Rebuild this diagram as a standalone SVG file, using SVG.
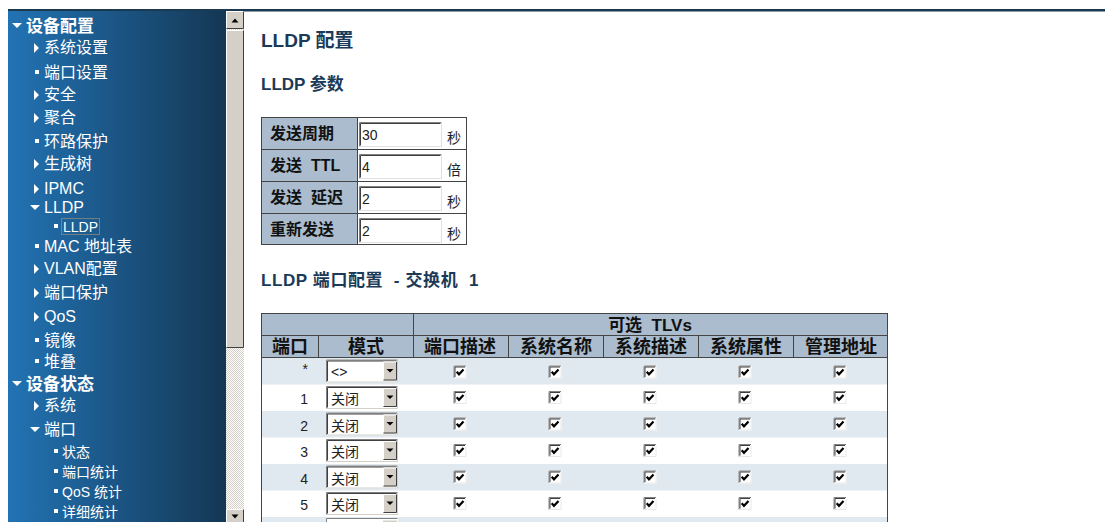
<svg xmlns="http://www.w3.org/2000/svg" xmlns:xlink="http://www.w3.org/1999/xlink" width="1105" height="522" viewBox="0 0 1105 522">
<style>
.m{font-family:"Liberation Sans","Noto Sans CJK SC",sans-serif;font-size:16px;fill:#fff}
.mb{font-family:"Liberation Sans","Noto Sans CJK SC",sans-serif;font-size:17px;font-weight:bold;fill:#fff}
.ms{font-family:"Liberation Sans","Noto Sans CJK SC",sans-serif;font-size:14px;fill:#fff}
.ic{fill:#fff}
.h1{font-family:"Liberation Sans","Noto Sans CJK SC",sans-serif;font-size:19px;font-weight:bold;fill:#1b3a57}
.h2{font-family:"Liberation Sans","Noto Sans CJK SC",sans-serif;font-size:17px;font-weight:bold;fill:#1b3a57;white-space:pre}
.lb{font-family:"Liberation Sans","Noto Sans CJK SC",sans-serif;font-size:16px;font-weight:bold;fill:#111;white-space:pre}
.th{font-family:"Liberation Sans","Noto Sans CJK SC",sans-serif;font-size:18px;font-weight:bold;fill:#111;white-space:pre}
.tx{font-family:"Liberation Sans","Noto Sans CJK SC",sans-serif;font-size:14px;fill:#222}
.hd{fill:#aabccd}
.lt{fill:#e0e8f0}
.bd{stroke:#444;stroke-width:1;fill:none}
</style>
<defs>
<linearGradient id="side" x1="0" y1="0" x2="1" y2="0">
<stop offset="0" stop-color="#2273b4"/>
<stop offset="1" stop-color="#143754"/>
</linearGradient>
<pattern id="chk" width="2" height="2" patternUnits="userSpaceOnUse">
<rect width="2" height="2" fill="#ffffff"/>
<rect width="1" height="1" fill="#d4d0c8"/>
<rect x="1" y="1" width="1" height="1" fill="#d4d0c8"/>
</pattern>
<g id="cb">
<rect x="0" y="0" width="13" height="13" fill="#fff"/>
<path d="M0.5 12.5V0.5H12.5" stroke="#808080" fill="none"/>
<path d="M1.5 11.5V1.5H11.5" stroke="#404040" fill="none"/>
<path d="M1.5 12.5H12.5V1.5" stroke="#e8e8e8" fill="none"/>
<path d="M3.2 6.2L5.5 8.8L10 4" stroke="#000" stroke-width="2.2" fill="none"/>
</g>
<g id="sel">
<rect x="0" y="0" width="72" height="23" fill="#fff"/>
<path d="M0.5 22.5V0.5H71.5" stroke="#808080" fill="none"/>
<path d="M1.5 21.5V1.5H70.5" stroke="#404040" fill="none"/>
<path d="M0.5 22.5H71.5V0.5" stroke="#d4d0c8" fill="none"/>
<rect x="57" y="2" width="14" height="19" fill="#d4d0c8"/>
<path d="M57.5 20.5V2.5H70.5" stroke="#fff" fill="none"/>
<path d="M57.5 20.5H70.5V2.5" stroke="#404040" fill="none"/>
<path d="M60.5 9.5H67.5L64 13Z" fill="#000"/>
</g>
<g id="inp">
<rect x="0" y="0" width="83" height="25" fill="#fff"/>
<path d="M0.5 24.5V0.5H82.5" stroke="#808080" fill="none"/>
<path d="M1.5 23.5V1.5H81.5" stroke="#404040" fill="none"/>
<path d="M0.5 24.5H82.5V0.5" stroke="#e0e0e0" fill="none"/>
</g>
</defs>

<rect width="1105" height="522" fill="#fff"/>
<rect x="8" y="9" width="1097" height="2.5" fill="#1b3a4f"/>

<g id="sidebar">
<rect x="8" y="11" width="218" height="511" fill="url(#side)"/>
<g id="m-dev-cfg"><path class="ic" d="M12 23H22L17 28Z"/><text class="mb" x="26" y="32">设备配置</text></g>
<g id="m-sys"><path class="ic" d="M34 43V53L39 48Z"/><text class="m" x="44" y="53">系统设置</text></g>
<g id="m-port"><rect class="ic" x="35" y="70" width="4" height="4"/><text class="m" x="44" y="78">端口设置</text></g>
<g id="m-sec"><path class="ic" d="M34 90V100L39 95Z"/><text class="m" x="44" y="100">安全</text></g>
<g id="m-agg"><path class="ic" d="M34 113V123L39 118Z"/><text class="m" x="44" y="123">聚合</text></g>
<g id="m-loop"><rect class="ic" x="35" y="139" width="4" height="4"/><text class="m" x="44" y="147">环路保护</text></g>
<g id="m-stp"><path class="ic" d="M34 159V169L39 164Z"/><text class="m" x="44" y="169">生成树</text></g>
<g id="m-ipmc"><path class="ic" d="M34 184V194L39 189Z"/><text class="m" x="44" y="194">IPMC</text></g>
<g id="m-lldp"><path class="ic" d="M30 205H40L35 210Z"/><text class="m" x="44" y="213">LLDP</text></g>
<g id="m-lldp-sub"><rect class="ic" x="54" y="224" width="4" height="4"/><rect x="61.5" y="218.5" width="38" height="16" fill="none" stroke="#c8a070" stroke-width="1" stroke-dasharray="1,1"/><text class="ms" x="63" y="232">LLDP</text></g>
<g id="m-mac"><rect class="ic" x="35" y="244" width="4" height="4"/><text class="m" x="44" y="252">MAC 地址表</text></g>
<g id="m-vlan"><path class="ic" d="M34 264V274L39 269Z"/><text class="m" x="44" y="274">VLAN配置</text></g>
<g id="m-pp"><path class="ic" d="M34 288V298L39 293Z"/><text class="m" x="44" y="298">端口保护</text></g>
<g id="m-qos"><path class="ic" d="M34 312V322L39 317Z"/><text class="m" x="44" y="322">QoS</text></g>
<g id="m-mir"><rect class="ic" x="35" y="338" width="4" height="4"/><text class="m" x="44" y="346">镜像</text></g>
<g id="m-stack"><rect class="ic" x="35" y="359" width="4" height="4"/><text class="m" x="44" y="367">堆叠</text></g>
<g id="m-dev-st"><path class="ic" d="M12 381H22L17 386Z"/><text class="mb" x="26" y="390">设备状态</text></g>
<g id="m-st-sys"><path class="ic" d="M34 401V411L39 406Z"/><text class="m" x="44" y="411">系统</text></g>
<g id="m-st-port"><path class="ic" d="M30 427H40L35 432Z"/><text class="m" x="44" y="435">端口</text></g>
<g id="m-st-status"><rect class="ic" x="54" y="449" width="4" height="4"/><text class="ms" x="62" y="457">状态</text></g>
<g id="m-st-pstat"><rect class="ic" x="54" y="469" width="4" height="4"/><text class="ms" x="62" y="477">端口统计</text></g>
<g id="m-st-qos"><rect class="ic" x="54" y="489" width="4" height="4"/><text class="ms" x="62" y="497">QoS 统计</text></g>
<g id="m-st-det"><rect class="ic" x="54" y="509" width="4" height="4"/><text class="ms" x="62" y="517">详细统计</text></g>
</g>

<g id="scrollbar">
<rect x="226" y="11" width="18" height="511" fill="url(#chk)"/>
<rect x="226" y="11" width="18" height="18" fill="#d4d0c8"/>
<path d="M226.5 28.5V11.5H243.5" stroke="#fff" fill="none"/>
<path d="M226.5 28.5H243.5V11.5" stroke="#404040" fill="none"/>
<path d="M231.5 22.5H238.5L235 18.5Z" fill="#000"/>
<rect x="226" y="30" width="18" height="318" fill="#d4d0c8"/>
<path d="M226.5 347.5V30.5H243.5" stroke="#fff" fill="none"/>
<path d="M226.5 347.5H243.5V30.5" stroke="#404040" fill="none"/>
<rect x="226" y="509" width="18" height="13" fill="#d4d0c8"/>
<path d="M226.5 522V509.5H243.5" stroke="#fff" fill="none"/>
<path d="M243.5 509.5V522" stroke="#404040" fill="none"/>
<path d="M231.5 514.5H238.5L235 518.5Z" fill="#000"/>
</g>

<g id="titles">
<text class="h1" x="261" y="47">LLDP 配置</text>
<text class="h2" x="261" y="90">LLDP 参数</text>
<text class="h2" x="261" y="286" style="letter-spacing:0.6px">LLDP 端口配置  - 交换机  1</text>
</g>

<g id="param-table">
<rect class="hd" x="261" y="117" width="96" height="128"/>
<rect x="357" y="117" width="110" height="128" fill="#fff"/>
<rect class="bd" x="261.5" y="117.5" width="205" height="127"/>
<path class="bd" d="M261 149.5H467M261 181.5H467M261 213.5H467M357.5 117V245"/>
<text class="lb" x="270" y="139">发送周期</text>
<text class="lb" x="270" y="171">发送  TTL</text>
<text class="lb" x="270" y="203">发送  延迟</text>
<text class="lb" x="270" y="235">重新发送</text>
<use xlink:href="#inp" x="359" y="122"/>
<use xlink:href="#inp" x="359" y="154"/>
<use xlink:href="#inp" x="359" y="186"/>
<use xlink:href="#inp" x="359" y="218"/>
<text class="tx" x="362" y="140">30</text>
<text class="tx" x="362" y="172">4</text>
<text class="tx" x="362" y="204">2</text>
<text class="tx" x="362" y="236">2</text>
<text class="tx" x="447" y="143">秒</text>
<text class="tx" x="447" y="175">倍</text>
<text class="tx" x="447" y="207">秒</text>
<text class="tx" x="447" y="239">秒</text>
</g>

<g id="port-table">
<rect class="hd" x="261" y="313" width="627" height="44"/>
<rect class="lt" x="261" y="357" width="627" height="27.5"/>
<rect class="lt" x="261" y="411" width="627" height="26.5"/>
<rect class="lt" x="261" y="464" width="627" height="26.5"/>
<rect class="lt" x="261" y="517" width="627" height="5"/>
<path class="bd" d="M261.5 313.5H887.5M261.5 313V522M887.5 313V522M261 335.5H888M261 357.5H888M413.5 313V357M318.5 335V357M508.5 335V357M603.5 335V357M698.5 335V357M793.5 335V357"/>
<text class="h2" x="650" y="331" text-anchor="middle" style="fill:#111">可选  TLVs</text>
<text class="th" x="290" y="353" text-anchor="middle">端口</text>
<text class="th" x="366" y="353" text-anchor="middle">模式</text>
<text class="th" x="460" y="353" text-anchor="middle">端口描述</text>
<text class="th" x="556" y="353" text-anchor="middle">系统名称</text>
<text class="th" x="651" y="353" text-anchor="middle">系统描述</text>
<text class="th" x="746" y="353" text-anchor="middle">系统属性</text>
<text class="th" x="841" y="353" text-anchor="middle">管理地址</text>

<g id="row-all">
<text class="tx" x="308" y="374" text-anchor="end">*</text>
<use xlink:href="#sel" x="326" y="359.5"/>
<text class="tx" x="331" y="377">&lt;&gt;</text>
<use xlink:href="#cb" x="453.5" y="365.5"/><use xlink:href="#cb" x="548.5" y="365.5"/><use xlink:href="#cb" x="643.5" y="365.5"/><use xlink:href="#cb" x="738.5" y="365.5"/><use xlink:href="#cb" x="833.5" y="365.5"/>
</g>
<g id="row-1">
<text class="tx" x="308" y="404" text-anchor="end">1</text>
<use xlink:href="#sel" x="326" y="386"/>
<text class="tx" x="331" y="404">关闭</text>
<use xlink:href="#cb" x="453.5" y="391"/><use xlink:href="#cb" x="548.5" y="391"/><use xlink:href="#cb" x="643.5" y="391"/><use xlink:href="#cb" x="738.5" y="391"/><use xlink:href="#cb" x="833.5" y="391"/>
</g>
<g id="row-2">
<text class="tx" x="308" y="430.5" text-anchor="end">2</text>
<use xlink:href="#sel" x="326" y="412.5"/>
<text class="tx" x="331" y="430.5">关闭</text>
<use xlink:href="#cb" x="453.5" y="417.5"/><use xlink:href="#cb" x="548.5" y="417.5"/><use xlink:href="#cb" x="643.5" y="417.5"/><use xlink:href="#cb" x="738.5" y="417.5"/><use xlink:href="#cb" x="833.5" y="417.5"/>
</g>
<g id="row-3">
<text class="tx" x="308" y="457" text-anchor="end">3</text>
<use xlink:href="#sel" x="326" y="439"/>
<text class="tx" x="331" y="457">关闭</text>
<use xlink:href="#cb" x="453.5" y="444"/><use xlink:href="#cb" x="548.5" y="444"/><use xlink:href="#cb" x="643.5" y="444"/><use xlink:href="#cb" x="738.5" y="444"/><use xlink:href="#cb" x="833.5" y="444"/>
</g>
<g id="row-4">
<text class="tx" x="308" y="483.5" text-anchor="end">4</text>
<use xlink:href="#sel" x="326" y="465.5"/>
<text class="tx" x="331" y="483.5">关闭</text>
<use xlink:href="#cb" x="453.5" y="470.5"/><use xlink:href="#cb" x="548.5" y="470.5"/><use xlink:href="#cb" x="643.5" y="470.5"/><use xlink:href="#cb" x="738.5" y="470.5"/><use xlink:href="#cb" x="833.5" y="470.5"/>
</g>
<g id="row-5">
<text class="tx" x="308" y="510" text-anchor="end">5</text>
<use xlink:href="#sel" x="326" y="492"/>
<text class="tx" x="331" y="510">关闭</text>
<use xlink:href="#cb" x="453.5" y="497"/><use xlink:href="#cb" x="548.5" y="497"/><use xlink:href="#cb" x="643.5" y="497"/><use xlink:href="#cb" x="738.5" y="497"/><use xlink:href="#cb" x="833.5" y="497"/>
</g>
<g id="row-6">
<rect x="326" y="518.5" width="72" height="4" fill="#fff"/>
<path d="M326.5 522V518.5H397.5" stroke="#808080" fill="none"/>
<rect x="383" y="520.5" width="14" height="2" fill="#d4d0c8"/>
</g>
</g>
</svg>
